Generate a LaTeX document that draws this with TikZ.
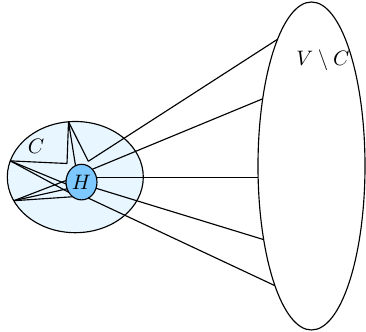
\documentclass[tikz,border=0pt]{standalone}
\usetikzlibrary{shapes.geometric}
\definecolor{cfill}{RGB}{232,246,255}
\definecolor{hfill}{RGB}{125,200,255}
\begin{document}
\begin{tikzpicture}[x=0.5263pt,y=-0.5263pt,
  edge/.style={line width=0.6pt},
  blob/.style={ellipse, draw, line width=0.6pt, inner sep=0pt, outer sep=0pt},
  lbl/.style={scale=1.1}]
\useasboundingbox (0,0) rectangle (366,332);
\node[blob, fill=cfill, minimum width=136*0.5263pt, minimum height=111.2*0.5263pt] (C) at (75.3,177.1) {};
\node[blob, minimum width=107*0.5263pt, minimum height=328*0.5263pt] (VC) at (311.5,166) {};
\node[blob, fill=hfill, minimum width=31*0.5263pt, minimum height=35.6*0.5263pt] (H) at (81.5,182.1) {};
\node[lbl] (Hlabel) at (H.center) {$H$};
\coordinate (T) at (C.97);
\coordinate (L) at (C.166);
\coordinate (B) at (C.201);
\coordinate (P1) at (67,163.5);
\coordinate (P2) at (88.3,161.3);
\draw[edge] (T) -- (P1);
\draw[edge] (T) -- (H.110);
\draw[edge] (T) -- (P2);
\draw[edge] (L) -- (P1);
\draw[edge] (L) -- (H.187);
\draw[edge] (L) -- (H.219);
\draw[edge] (B) -- (H.174);
\draw[edge] (B) -- (H.205);
\draw[edge] (B) -- (H.239);
\draw[edge] (P2) -- (VC.105);
\draw[edge] (H.50) -- (VC.126);
\draw[edge] (H.18) -- (H.18 -| VC.west);
\draw[edge] (H.337) -- (VC.237);
\draw[edge] (H.293) -- (VC.253);
\node[lbl] (Clabel) at (36,146.5) {$C$};
\node[lbl] (VClabel) at (323,60.5) {$V\setminus C$};
\end{tikzpicture}
\end{document}
